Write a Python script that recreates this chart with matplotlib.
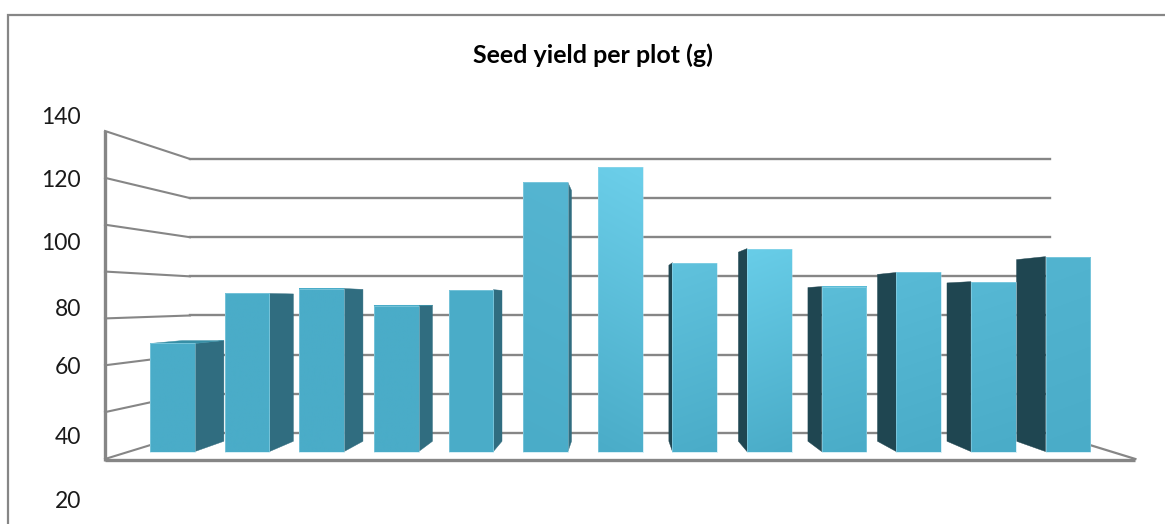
#!/usr/bin/env python
# coding: utf-8

import numpy as np
import matplotlib
matplotlib.use('Agg')
import matplotlib.pyplot as plt
from matplotlib.colors import to_rgb

TITLE = "Seed yield per plot (g)"
BAR_VALUES = [48.4, 70.8, 73.0, 65.4, 72.5, 120.5, 127.4, 84.6, 90.9, 73.9, 80.2, 76.1, 87.3]
GRID_VALUES = [0, 20, 40, 60, 80, 100, 120, 140]
TICK_LABELS = ["140", "120", "100", "80", "60", "40", "20"]
TICK_LABEL_Y = [118, 180.5, 244, 310, 368, 437, 502]

W, H = 1165, 524
GREY = '#868686'
FRONT_LOW = '#4AACC8'
FRONT_TOPS = ['#4AACC8', '#4AACC8', '#4AACC8', '#4AACC8', '#4BADC9', '#55B5D1', '#6CCFEA',
              '#60C2DD', '#68CDE8', '#5BBDD8', '#58BAD6', '#56B8D4', '#52B4D0']
SIDE_RIGHT = '#306D80'
SIDE_LEFT = '#1F4651'
TOP_FACE = '#378FA6'

# vanishing point of the 3d box, in data units
VX, VY = 6.0, 67.6
WALL_DEPTH = 0.165
BAR_NEAR = 0.047
BAR_FAR = 0.112
HALF_WIDTH = 0.30
X_MIN, X_MAX = -0.58, 12.58
Y_TOP = 140


def proj(x, v, d):
    return x + (VX - x) * d, v + (VY - v) * d


def face(ax, corners, color, zorder=3):
    xs, ys = zip(*[proj(*c) for c in corners])
    ax.fill(xs, ys, color=color, lw=0.3, zorder=zorder)


def front_gradient(top, tilt):
    # light at the top, going down to the base colour, leaning a bit sideways
    yy, xx = np.mgrid[0:1:64j, 0:1:16j]
    t = 0.85 * (1 - yy) + 0.15 * (xx if tilt > 0 else 1 - xx)
    t = t[..., None] * 0.5 + (1 - yy[..., None]) * 0.5
    return np.array(to_rgb(FRONT_LOW)) * (1 - t) + np.array(to_rgb(top)) * t


fig = plt.figure(figsize=(W / 100, H / 100), dpi=100)
plt.rcParams['font.family'] = ['Lato', 'DejaVu Sans']
ax = fig.add_axes([0, 0, 1, 1])
xlim = (-1.921, 12.958)
ylim = (-27.74, 195.9)

# chart border, only top and left are in view
ax.plot([8 / W, 8 / W, 1], [0, 1 - 15 / H, 1 - 15 / H], transform=ax.transAxes,
        color=GREY, lw=1.6, solid_joinstyle='miter', zorder=1)

# back wall and left wall gridlines
for v in GRID_VALUES:
    bx0, by = proj(X_MIN, v, WALL_DEPTH)
    bx1, _ = proj(X_MAX, v, WALL_DEPTH)
    ax.plot([bx0, bx1], [by, by], color=GREY, lw=1.7, zorder=2)
    ax.plot([X_MIN, bx0], [v, by], color=GREY, lw=1.5, zorder=2)

# floor edges and the vertical axis
bx1, by = proj(X_MAX, 0, WALL_DEPTH)
ax.plot([bx1, X_MAX], [by, 0], color=GREY, lw=1.6, zorder=2)
ax.plot([X_MIN, X_MAX], [-0.4, -0.4], color=GREY, lw=2.4, zorder=2, solid_capstyle='butt')
ax.plot([X_MIN, X_MIN], [-1, Y_TOP], color=GREY, lw=2.4, zorder=2, solid_capstyle='butt')

for i, value in enumerate(BAR_VALUES):
    left, right = i - HALF_WIDTH, i + HALF_WIDTH

    if right < VX:
        face(ax, [(right, 0, BAR_NEAR), (right, 0, BAR_FAR),
                  (right, value, BAR_FAR), (right, value, BAR_NEAR)], SIDE_RIGHT)
    if left > VX:
        face(ax, [(left, 0, BAR_NEAR), (left, 0, BAR_FAR),
                  (left, value, BAR_FAR), (left, value, BAR_NEAR)], SIDE_LEFT)
    if value < VY - 1:
        face(ax, [(left, value, BAR_NEAR), (right, value, BAR_NEAR),
                  (right, value, BAR_FAR), (left, value, BAR_FAR)], TOP_FACE)

    x0, y0 = proj(left, 0, BAR_NEAR)
    x1, y1 = proj(right, value, BAR_NEAR)
    ax.imshow(front_gradient(FRONT_TOPS[i], 1 if i <= 6 else -1), extent=(x0, x1, y0, y1),
              origin='upper', aspect='auto', interpolation='bilinear', zorder=4)
    # faint light rim round the front face
    ax.plot([x0, x0, x1, x1, x0], [y0, y1, y1, y0, y0], color='#A8DDEC', lw=0.6, alpha=0.55, zorder=5)

ax.set_xlim(*xlim)
ax.set_ylim(*ylim)
ax.axis('off')

for label, y in zip(TICK_LABELS, TICK_LABEL_Y):
    fig.text(81 / W, 1 - y / H, label, ha='right', va='center', fontsize=16.5, color='#1a1a1a')

fig.text(592.5 / W, 1 - 55 / H, TITLE, ha='center', va='center', fontsize=18,
         fontweight='bold', color='black')

fig.savefig('out.png', dpi=100)
